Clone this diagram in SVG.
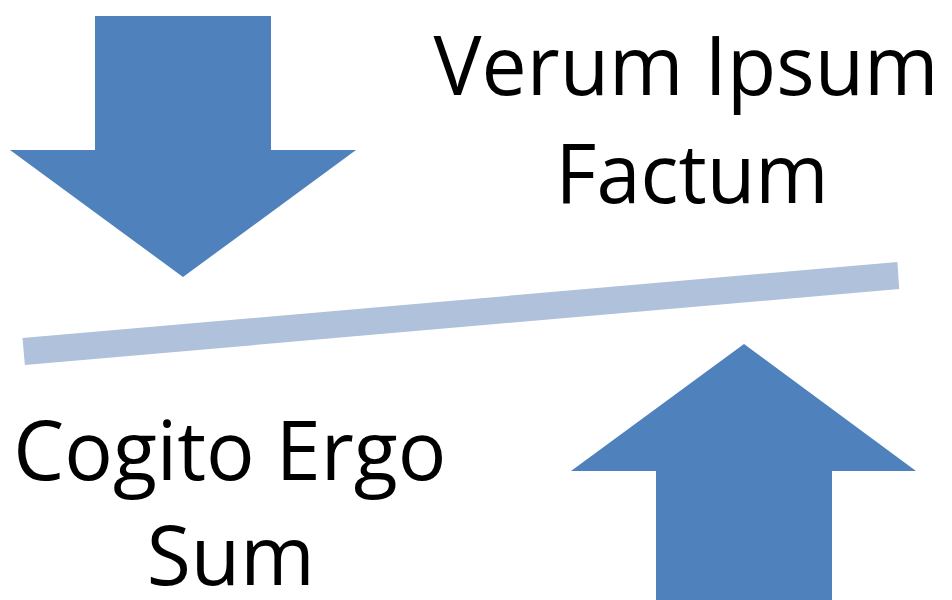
<svg xmlns="http://www.w3.org/2000/svg" width="952" height="600" viewBox="0 0 952 600">
  <style>
    .arrow { fill: #4F81BD; }
    .band { fill: #B0C1DB; }
    .label { font-family: "Open Sans", "Liberation Sans", sans-serif; font-size: 83px; fill: #000; }
  </style>
  <rect width="952" height="600" fill="#FFFFFF"/>

  <!-- downward block arrow, top left -->
  <g id="arrow-down">
    <polygon class="arrow" points="95,16 271,16 271,150 356,150 183,277 10,150 95,150"/>
  </g>

  <!-- upward block arrow, bottom right -->
  <g id="arrow-up">
    <polygon class="arrow" points="744,344 916,471 832,471 832,600 656,600 656,471 571,471"/>
  </g>

  <!-- tilted divider band -->
  <g id="divider">
    <polygon class="band" points="22.5,338 897.4,262 899.2,289 24.9,365"/>
  </g>

  <g id="label-top">
    <text class="label" x="433.6" y="94.6" textLength="505" lengthAdjust="spacingAndGlyphs">Verum Ipsum</text>
    <text class="label" x="555.6" y="203" textLength="273" lengthAdjust="spacingAndGlyphs">Factum</text>
  </g>

  <g id="label-bottom">
    <text class="label" x="13.3" y="480" textLength="433" lengthAdjust="spacingAndGlyphs">Cogito Ergo</text>
    <text class="label" x="146.7" y="585" textLength="168" lengthAdjust="spacingAndGlyphs">Sum</text>
  </g>

  <g id="connectors"/>
</svg>
